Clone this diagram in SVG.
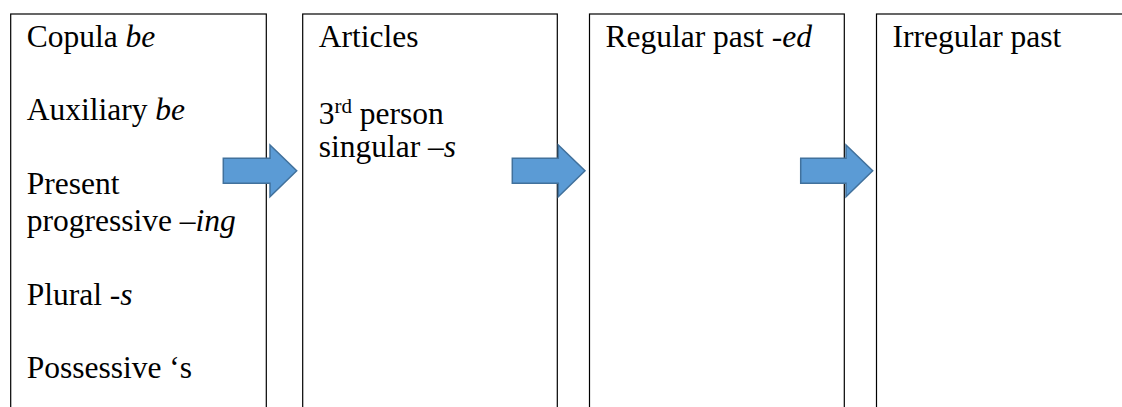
<svg xmlns="http://www.w3.org/2000/svg" width="1122" height="407" viewBox="0 0 1122 407">
  <style>
    .box { fill: #ffffff; stroke: #000000; stroke-width: 1.2; }
    .arrow { fill: #5B9BD5; stroke: #41719C; stroke-width: 1.5; stroke-linejoin: miter; }
    .t { font-family: 'Liberation Serif', Tinos, 'Times New Roman', Times, 'DejaVu Serif', serif; font-size: 31.5px; fill: #000000; }
    .i { font-style: italic; }
  </style>
  <rect x="0" y="0" width="1122" height="407" fill="#ffffff"/>
  <g id="node-1">
    <rect class="box" x="10.7" y="14" width="255.6" height="420"/>
    <text class="t" x="26.7" y="46.7">Copula <tspan class="i">be</tspan></text>
    <text class="t" x="26.7" y="120.4">Auxiliary <tspan class="i">be</tspan></text>
    <text class="t" x="26.7" y="194.1">Present</text>
    <text class="t" x="26.7" y="231">progressive <tspan class="i">–ing</tspan></text>
    <text class="t" x="26.7" y="304.7">Plural -<tspan class="i">s</tspan></text>
    <text class="t" x="26.7" y="378.4">Possessive ‘s</text>
  </g>
  <g id="node-2">
    <rect class="box" x="302.7" y="14" width="254.6" height="420"/>
    <text class="t" x="318.7" y="46.7">Articles</text>
    <text class="t" x="318.7" y="124">3<tspan font-size="21px" dy="-11">rd</tspan><tspan dy="11"> person</tspan></text>
    <text class="t" x="318.7" y="157.3">singular <tspan class="i">–s</tspan></text>
  </g>
  <g id="node-3">
    <rect class="box" x="589.5" y="14" width="254.8" height="420"/>
    <text class="t" x="605.5" y="46.7">Regular past -<tspan class="i">ed</tspan></text>
  </g>
  <g id="node-4">
    <rect class="box" x="876.5" y="14" width="260" height="420"/>
    <text class="t" x="892.5" y="46.7">Irregular past</text>
  </g>
  <g id="connectors">
    <polygon class="arrow" points="223.3,158.3 270,158.3 270,145 296.7,170.7 270,196.7 270,183.3 223.3,183.3"/>
    <polygon class="arrow" points="512.3,158.3 558.3,158.3 558.3,145 585,170.7 558.3,196.7 558.3,183.3 512.3,183.3"/>
    <polygon class="arrow" points="800.7,158.3 846,158.3 846,145 872.7,170.7 846,196.7 846,183.3 800.7,183.3"/>
  </g>
</svg>
